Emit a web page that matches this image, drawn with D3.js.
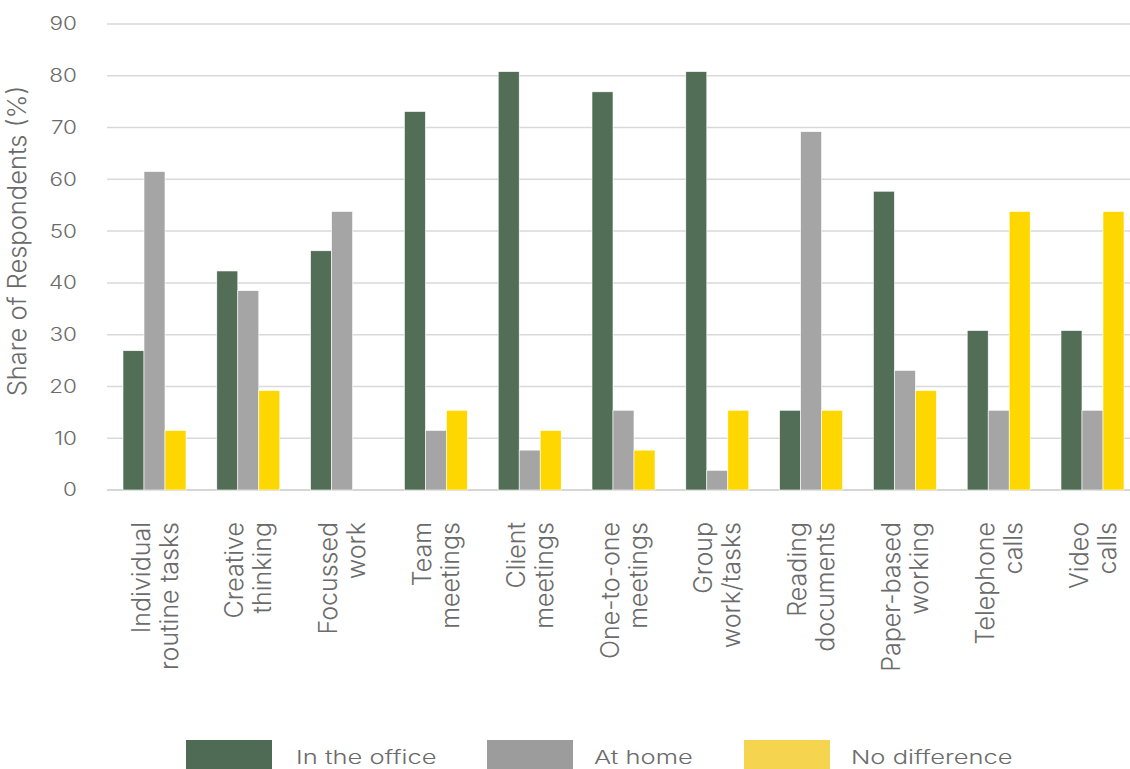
<!DOCTYPE html>
<html><head><meta charset="utf-8">
<script src="https://cdn.jsdelivr.net/npm/d3@7"></script>
<style>body{margin:0;background:#fff}svg{display:block}</style>
</head><body>
<svg id="chart" width="1130" height="769"></svg>
<script>
const categories = [
  ["Individual","routine tasks"],["Creative","thinking"],["Focussed","work"],
  ["Team","meetings"],["Client","meetings"],["One-to-one","meetings"],
  ["Group","work/tasks"],["Reading","documents"],["Paper-based","working"],
  ["Telephone","calls"],["Video","calls"]
];
const seriesNames = ["In the office","At home","No difference"];
const inOffice   = [26.9, 42.3, 46.2, 73.1, 80.8, 76.9, 80.8, 15.4, 57.7, 30.8, 30.8];
const atHome     = [61.5, 38.5, 53.8, 11.5, 7.7, 15.4, 3.8, 69.2, 23.1, 15.4, 15.4];
const noDiff     = [11.5, 19.2, 0, 15.4, 11.5, 7.7, 15.4, 15.4, 19.2, 53.8, 53.8];
const yTicks = [0,10,20,30,40,50,60,70,80,90];
const barColors = ["#526E57","#A5A5A5","#FFD700"];
const legendColors = ["#4F6B56","#9C9C9C","#F5D450"];
const font = "Inter, 'DejaVu Sans', sans-serif";
const textColor = "#6b6b6b";

const series = [inOffice, atHome, noDiff];
const svg = d3.select("#chart");
const x = d3.scaleBand().domain(d3.range(categories.length)).range([107.6, 1139.4]);
const y = d3.scaleLinear().domain([0,90]).range([490, 24]);

// gridlines
svg.append("g").selectAll("line").data(yTicks).join("line")
  .attr("x1",107).attr("x2",1130)
  .attr("y1",d=>y(d)).attr("y2",d=>y(d))
  .attr("stroke", d=> d===0 ? "#c8c8c8" : "#d9d9d9").attr("stroke-width",1.5);

// y tick labels (horizontally stretched like the reference)
svg.append("g").selectAll("text").data(yTicks).join("text")
  .attr("transform",d=>`translate(77,${y(d)}) scale(1.25,1)`)
  .attr("dy","0.36em")
  .attr("text-anchor","end").attr("font-family",font).attr("font-weight",300).attr("font-size",18)
  .attr("fill",textColor).text(d=>d);

// y title
svg.append("text").attr("transform","translate(26,241) rotate(-90)")
  .attr("text-anchor","middle").attr("font-family",font).attr("font-weight",300).attr("font-size",25.5)
  .attr("fill",textColor).text("Share of Respondents (%)");

// bars
const bw = 21;
series.forEach((vals,si)=>{
  svg.append("g").selectAll("rect").data(vals).join("rect")
    .attr("x",(d,i)=>x(i)+x.bandwidth()/2 - 1.5*bw + si*bw)
    .attr("width",bw)
    .attr("y",d=>y(d)).attr("height",d=>y(0)-y(d))
    .attr("fill",barColors[si]).attr("stroke","#fff").attr("stroke-width",d=>d>0?0.6:0);
});

// x labels
const lab = svg.append("g");
categories.forEach((lines,i)=>{
  const cx = x(i)+x.bandwidth()/2;
  lines.forEach((t,li)=>{
    const lx = cx + (li===0 ? -14 : 14);
    lab.append("text")
      .attr("transform",`translate(${lx},522) rotate(-90)`)
      .attr("dy","0.36em").attr("text-anchor","end")
      .attr("font-family",font).attr("font-weight",300).attr("font-size",25).attr("fill",textColor).text(t);
  });
});

// legend
const legX = [186, 487, 744];
const legTX = [296, 594, 851];
seriesNames.forEach((n,i)=>{
  svg.append("rect").attr("x",legX[i]).attr("y",740).attr("width",86).attr("height",30).attr("fill",legendColors[i]);
  svg.append("text").attr("transform",`translate(${legTX[i]},764) scale(1.38,1)`)
    .attr("font-family",font).attr("font-weight",300).attr("font-size",18.5)
    .attr("fill",textColor).text(n);
});
</script>
</body></html>
